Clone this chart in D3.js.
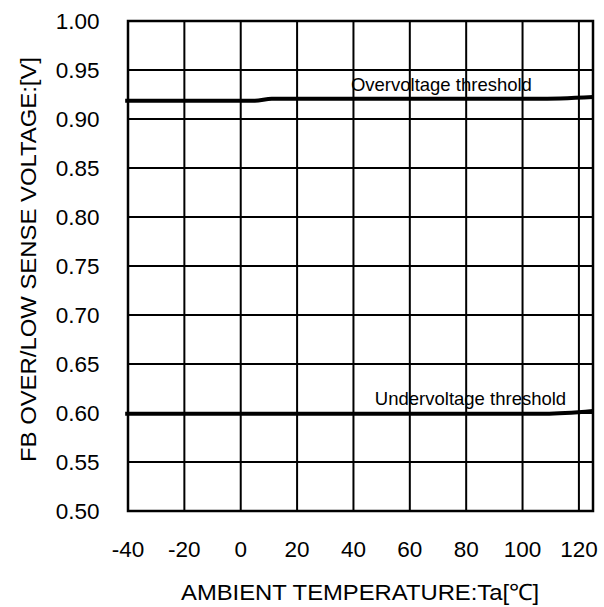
<!DOCTYPE html>
<html><head><meta charset="utf-8">
<script src="https://cdn.jsdelivr.net/npm/d3@7"></script>
<style>body{margin:0;background:#fff}svg{display:block}text{font-family:"Liberation Sans",Arial,sans-serif;fill:#000}</style>
</head><body><svg id="c" width="604" height="607"></svg>
<script>
const xTicks = [-40,-20,0,20,40,60,80,100,120];
const yTicks = [0.50,0.55,0.60,0.65,0.70,0.75,0.80,0.85,0.90,0.95,1.00];
const overTemp = [-41, 5, 11, 105, 125];
const overVolt = [0.9187, 0.9187, 0.9206, 0.9206, 0.9225];
const underTemp = [-41, 108, 125];
const underVolt = [0.5992, 0.5992, 0.6020];
const labels = [
  {text:"Overvoltage threshold", t:39.1, v:0.9285},
  {text:"Undervoltage threshold", t:47.6, v:0.6083}
];
const xTitle = "AMBIENT TEMPERATURE:Ta[\u2103]";
const yTitle = "FB OVER/LOW SENSE VOLTAGE:[V]";

const svg = d3.select("#c");
const L=128, R=593, T=21, B=511;
const x = d3.scaleLinear().domain([-40,125]).range([L,R]);
const y = d3.scaleLinear().domain([0.5,1.0]).range([B,T]);
const g = svg.append("g");

// grid
g.selectAll("line.v").data(xTicks.slice(1)).enter().append("line")
  .attr("x1",d=>x(d)).attr("x2",d=>x(d)).attr("y1",T).attr("y2",B)
  .attr("stroke","#000").attr("stroke-width",2);
g.selectAll("line.h").data(yTicks.slice(1,-1)).enter().append("line")
  .attr("y1",d=>y(d)).attr("y2",d=>y(d)).attr("x1",L).attr("x2",R)
  .attr("stroke","#000").attr("stroke-width",2);
g.append("rect").attr("x",L).attr("y",T).attr("width",R-L).attr("height",B-T)
  .attr("fill","none").attr("stroke","#000").attr("stroke-width",2.5);

// tick labels
g.selectAll("text.xt").data(xTicks).enter().append("text")
  .attr("x",d=>x(d)).attr("y",557).attr("text-anchor","middle")
  .style("font-size","22.5px").text(d=>d);
g.selectAll("text.yt").data(yTicks).enter().append("text")
  .attr("x",99.5).attr("y",d=>y(d)).attr("dy","0.36em").attr("text-anchor","end")
  .style("font-size","22.5px").text(d=>d3.format(".2f")(d));

// data lines
const line = d3.line().x(d=>x(d[0])).y(d=>y(d[1])).curve(d3.curveMonotoneX);
[[overTemp,overVolt],[underTemp,underVolt]].forEach(([t,v])=>{
  g.append("path").datum(t.map((d,i)=>[d,v[i]])).attr("d",line)
    .attr("fill","none").attr("stroke","#000").attr("stroke-width",4);
});

// annotations
g.selectAll("text.lab").data(labels).enter().append("text")
  .attr("x",d=>x(d.t)).attr("y",d=>y(d.v)).style("font-size","18.5px").text(d=>d.text);

// titles
g.append("text").attr("x",181).attr("y",600)
  .attr("textLength",358).attr("lengthAdjust","spacingAndGlyphs")
  .style("font-size","22.5px").text(xTitle);
g.append("text").attr("transform","translate(36,462) rotate(-90)")
  .attr("textLength",405).attr("lengthAdjust","spacingAndGlyphs")
  .style("font-size","22.5px").text(yTitle);
</script></body></html>
